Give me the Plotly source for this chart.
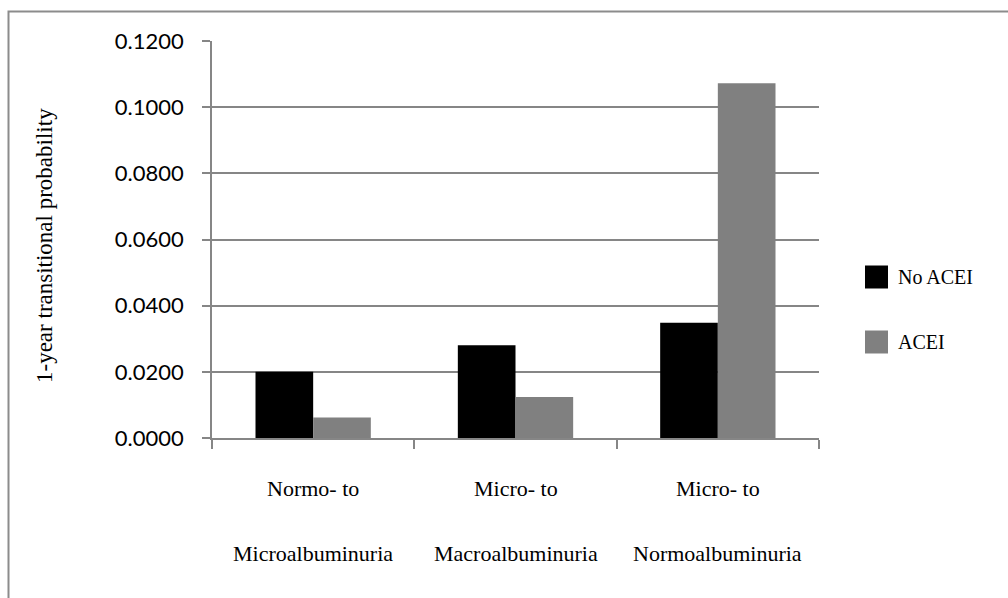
import plotly.graph_objects as go

# Transitions between albuminuria states
cat_line1 = ["Normo- to", "Micro- to", "Micro- to"]
cat_line2 = ["Microalbuminuria", "Macroalbuminuria", "Normoalbuminuria"]
categories = ["Normo→Micro", "Micro→Macro", "Micro→Normo"]

series_names = ["No ACEI", "ACEI"]
no_acei = [0.0200, 0.0280, 0.0348]
acei = [0.0062, 0.0124, 0.1072]
series_colors = ["#000000", "#808080"]

y_title = "1-year transitional probability"

W, H = 1008, 598
L, R, T, B = 212, 189, 41, 160
pw, ph = W - L - R, H - T - B


def px_x(px):
    return (px - L) / pw


def px_y(py):
    return (H - B - py) / ph


fig = go.Figure()
for name, vals, col in zip(series_names, [no_acei, acei], series_colors):
    fig.add_trace(go.Bar(
        x=categories, y=vals, name=name,
        marker=dict(color=col, line=dict(width=0)),
        showlegend=False,
    ))

serif = "Times New Roman"
sans = "Lato"

annotations = []
# two-line category captions under each group
for c, l1, l2 in zip(categories, cat_line1, cat_line2):
    annotations.append(dict(x=c, y=px_y(488), xref="x", yref="paper", text=l1,
                            showarrow=False, yanchor="middle",
                            font=dict(family=serif, size=22, color="#000")))
    annotations.append(dict(x=c, y=px_y(553), xref="x", yref="paper", text=l2,
                            showarrow=False, yanchor="middle",
                            font=dict(family=serif, size=22, color="#000")))

# axis title
annotations.append(dict(x=px_x(45), y=px_y(246), xref="paper", yref="paper",
                        text=y_title, textangle=-90, showarrow=False,
                        xanchor="center", yanchor="middle",
                        font=dict(family=serif, size=23, color="#000")))

# legend: swatches + labels
shapes = []
legend_rows = [277, 342]
for name, col, cy in zip(series_names, series_colors, legend_rows):
    shapes.append(dict(type="rect", xref="paper", yref="paper",
                       x0=px_x(865), x1=px_x(888), y0=px_y(cy - 11.5), y1=px_y(cy + 11.5),
                       fillcolor=col, line=dict(width=0)))
    annotations.append(dict(x=px_x(896), y=px_y(cy), xref="paper", yref="paper",
                            text=name, showarrow=False, xanchor="left", yanchor="middle",
                            font=dict(family=serif, size=20, color="#000")))

# chart frame
shapes.append(dict(type="rect", xref="paper", yref="paper",
                   x0=px_x(8.5), x1=px_x(W + 20), y0=px_y(H + 20), y1=px_y(11.5),
                   line=dict(color="#8c8c8c", width=2), fillcolor="rgba(0,0,0,0)",
                   layer="below"))

fig.update_layout(
    width=W, height=H,
    margin=dict(l=L, r=R, t=T, b=B, autoexpand=False),
    paper_bgcolor="white", plot_bgcolor="white",
    barmode="group", bargap=0.43, bargroupgap=0,
    showlegend=False,
    annotations=annotations,
    shapes=shapes,
    xaxis=dict(
        showticklabels=False, ticks="outside", tickson="boundaries",
        ticklen=9, tickcolor="#868686", tickwidth=1.5,
        showline=True, linecolor="#868686", linewidth=1.5,
        showgrid=False, zeroline=False,
    ),
    yaxis=dict(
        range=[0, 0.12], dtick=0.02, tickformat=".4f",
        ticks="outside", ticklen=8, tickcolor="#868686", tickwidth=1.5,
        showline=True, linecolor="#868686", linewidth=1.5,
        showgrid=True, gridcolor="#868686", gridwidth=1.5,
        zeroline=False, ticklabelstandoff=14,
        tickfont=dict(family=sans, size=22, color="#000"),
    ),
)

fig.write_html("out.html")
